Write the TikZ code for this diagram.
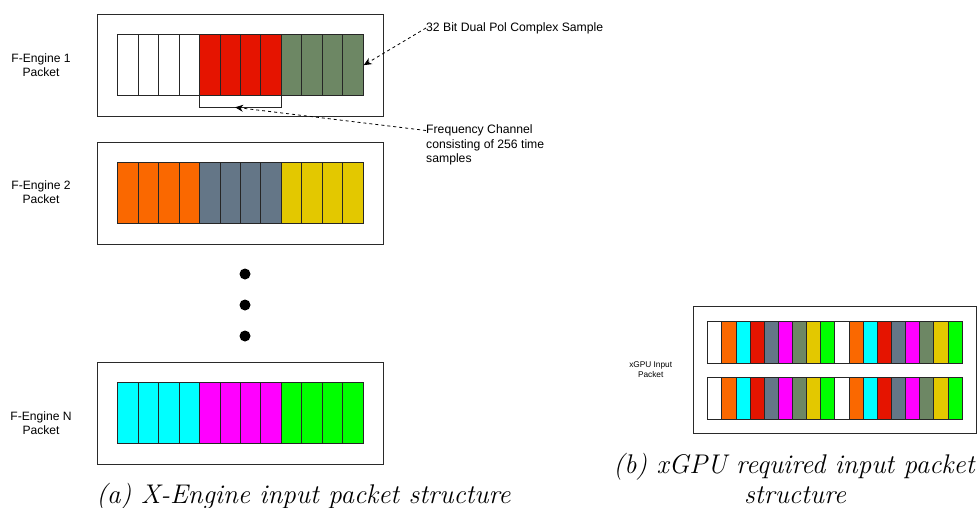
\documentclass[tikz,border=0pt]{standalone}
\usepackage{fontspec}
\newfontfamily\labelfont{Liberation Sans}
\usetikzlibrary{arrows.meta,calc}

% fill colours of the samples
\definecolor{cwhite}{HTML}{FFFFFF}
\definecolor{cred}{HTML}{E51400}
\definecolor{csage}{HTML}{6D8764}
\definecolor{corange}{HTML}{FA6800}
\definecolor{cslate}{HTML}{647687}
\definecolor{cyellow}{HTML}{E3C800}
\definecolor{ccyan}{HTML}{00FFFF}
\definecolor{cmagenta}{HTML}{FF00FF}
\definecolor{cgreen}{HTML}{00FF00}
\definecolor{boxline}{HTML}{2A2A2A}

\tikzset{
  packetbox/.style={draw=boxline, line width=1pt, fill=white, anchor=north west, inner sep=0pt},
  sample/.style={draw=black!85, line width=1pt, anchor=north west, inner sep=0pt},
  lbl/.style={font=\labelfont\fontsize{12.1}{14}\selectfont, align=center, inner sep=0pt},
  smalllbl/.style={font=\labelfont\fontsize{8.3}{10}\selectfont, align=center, inner sep=0pt},
  note/.style={font=\labelfont\fontsize{12.2}{14.5}\selectfont, align=left, inner sep=0pt},
  pointer/.style={dashed, line width=0.8pt, -{Stealth[length=8pt,width=7pt]}},
  dotmark/.style={circle, fill=black, minimum size=11pt, inner sep=0pt},
  caption/.style={font=\fontsize{27}{30}\selectfont\itshape, inner sep=0pt, anchor=base}
}

\begin{document}
\begin{tikzpicture}[x=1pt,y=-1pt]
\useasboundingbox (0,0) rectangle (977,508);

% ---------- F-Engine packets ----------
\node[packetbox, minimum width=286pt, minimum height=102pt] (pk1) at (97,14) {};
\node[packetbox, minimum width=286pt, minimum height=102pt] (pk2) at (97,141.7) {};
\node[packetbox, minimum width=286pt, minimum height=102pt] (pkn) at (97,361.7) {};

\foreach \i/\c in {1/cwhite,2/cwhite,3/cwhite,4/cwhite,5/cred,6/cred,7/cred,8/cred,9/csage,10/csage,11/csage,12/csage}
  \node[sample, fill=\c, minimum width=20.45pt, minimum height=61.3pt] (p1c\i) at ({117.3+(\i-1)*20.45},34) {};
\foreach \i/\c in {1/corange,2/corange,3/corange,4/corange,5/cslate,6/cslate,7/cslate,8/cslate,9/cyellow,10/cyellow,11/cyellow,12/cyellow}
  \node[sample, fill=\c, minimum width=20.45pt, minimum height=61pt] (p2c\i) at ({117.3+(\i-1)*20.45},162) {};
\foreach \i/\c in {1/ccyan,2/ccyan,3/ccyan,4/ccyan,5/cmagenta,6/cmagenta,7/cmagenta,8/cmagenta,9/cgreen,10/cgreen,11/cgreen,12/cgreen}
  \node[sample, fill=\c, minimum width=20.45pt, minimum height=61pt] (pnc\i) at ({117.3+(\i-1)*20.45},381.7) {};

\node[lbl] (l1) at (41,65) {F-Engine 1\\Packet};
\node[lbl] (l2) at (41,192) {F-Engine 2\\Packet};
\node[lbl] (ln) at (41,423) {F-Engine N\\Packet};

% bracket marking one frequency channel
\draw[line width=1pt, draw=black!85] (p1c5.south west) -- ++(0,11) coordinate (bl) -| (p1c8.south east);
\coordinate (brk) at ($(bl)+(36,0)$);

% annotations
\node[note, anchor=west] (ann1) at (426,28) {32 Bit Dual Pol Complex Sample};
\node[note, anchor=north west] (ann2) at (426,124.5) {Frequency Channel\\consisting of 256 time\\samples};
\draw[pointer] (ann1.west) -- (p1c12.east);
\draw[pointer] ([yshift=-6pt]ann2.north west) -- (brk);

% ellipsis between packets
\node[dotmark] (d1) at (245,274) {};
\node[dotmark] (d2) at (245,305) {};
\node[dotmark] (d3) at (245,336) {};

% ---------- xGPU packet ----------
\node[packetbox, minimum width=282.4pt, minimum height=127.3pt] (xg) at (693.3,306) {};
\foreach \r/\y in {a/320.7,b/376.7}
  \foreach \i/\c in {1/cwhite,2/corange,3/ccyan,4/cred,5/cslate,6/cmagenta,7/csage,8/cyellow,9/cgreen,10/cwhite,11/corange,12/ccyan,13/cred,14/cslate,15/cmagenta,16/csage,17/cyellow,18/cgreen}
    \node[sample, fill=\c, minimum width=14.13pt, minimum height=41.8pt] (x\r\i) at ({707.3+(\i-1)*14.13},\y) {};
\node[smalllbl] (xl) at (650.7,370) {xGPU Input\\Packet};

% ---------- captions ----------
\node[caption] (capa) at (303.5,503) {(a) X-Engine input packet structure};
\node[caption] (capb1) at (794,473) {(b) xGPU required input packet};
\node[caption] (capb2) at (795,503) {structure};
\end{tikzpicture}
\end{document}
